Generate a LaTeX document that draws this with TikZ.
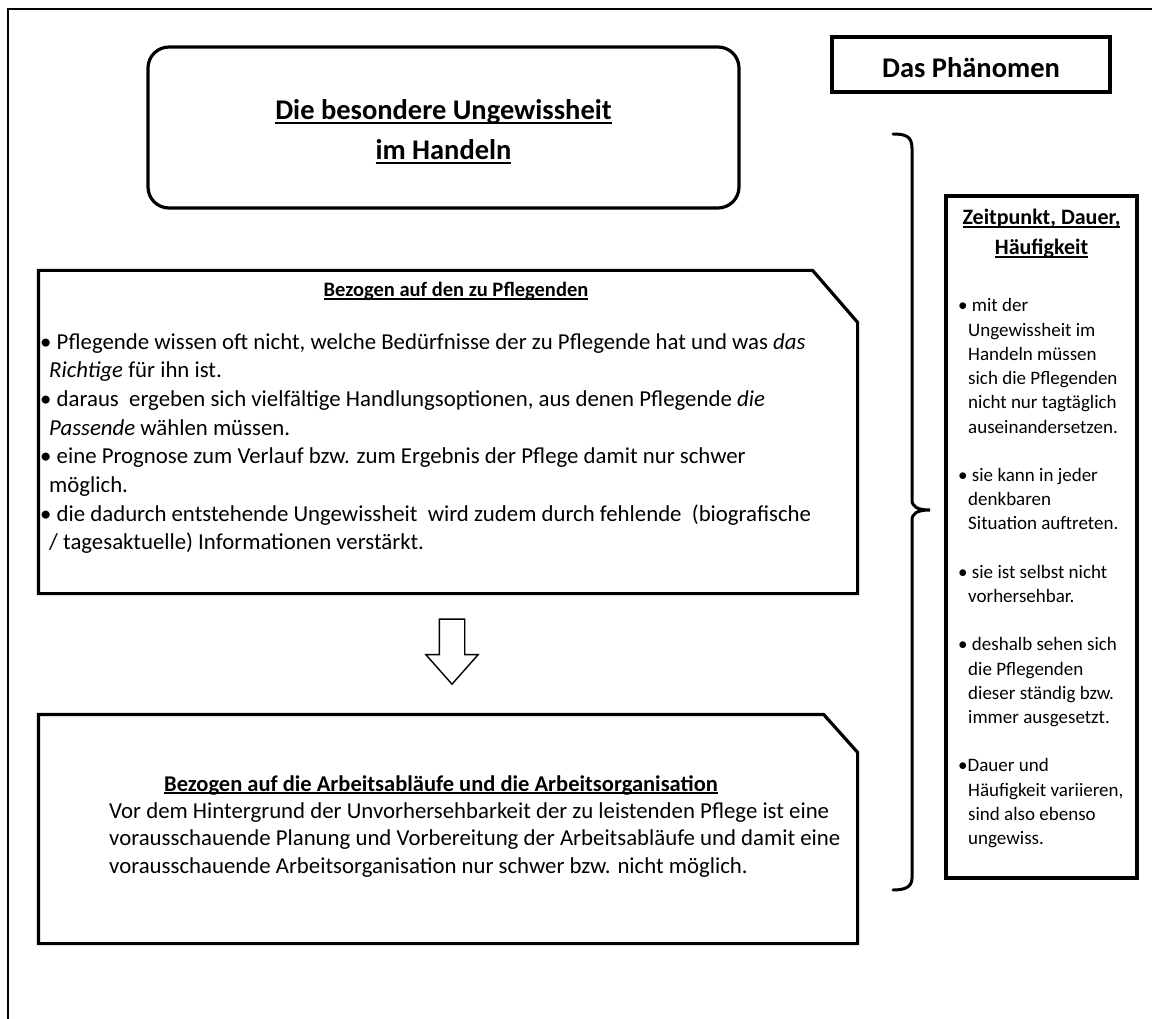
\documentclass[tikz,border=0pt]{standalone}
\usepackage{fontspec}
\setmainfont{Carlito}
\usetikzlibrary{shapes.arrows}

\newsavebox{\ulbox}
\newcommand{\ulin}[1]{\sbox{\ulbox}{#1}\rlap{\rule[-0.13em]{\wd\ulbox}{0.07em}}\usebox{\ulbox}}

\begin{document}
\begin{tikzpicture}[
    x=1pt, y=-1pt,
    frame/.style={line width=2.4pt},
    boxline/.style={draw=black, line width=3.2pt, line join=miter},
    titlebox/.style={
        rectangle, rounded corners=21pt,
        draw=black, line width=3.2pt,
        minimum width=591pt, minimum height=161pt
    },
    plainbox/.style={
        rectangle, draw=black, line width=3.2pt, inner sep=0pt
    },
    downarrow/.style={
        single arrow, draw=black, line width=1.4pt, rotate=-90,
        minimum height=65pt, inner xsep=0pt, inner ysep=12pt,
        single arrow head extend=13.5pt, single arrow tip angle=83
    },
    bracket/.style={line width=3pt, line cap=round},
    titletext/.style={anchor=base, inner sep=0pt, font=\fontsize{28.5}{34}\selectfont\bfseries},
    headone/.style={anchor=base, inner sep=0pt, font=\fontsize{20.5}{24}\selectfont\bfseries},
    heading/.style={anchor=base, inner sep=0pt, font=\fontsize{22.5}{26}\selectfont\bfseries},
    body/.style={anchor=base west, inner sep=0pt, font=\fontsize{22.8}{27}\selectfont},
    ztext/.style={anchor=base west, inner sep=0pt, font=\fontsize{19}{23}\selectfont},
]
\useasboundingbox (0,0) rectangle (1152,1019);

% Rahmen
\draw[frame] (8,1019) -- (8,9) -- (1152,9);

% Titel
\node[titlebox] (title) at (443.5,127.5) {};
\node[titletext] (title1) at (443.5,120) {\ulin{Die besondere Ungewissheit}};
\node[titletext] (title2) at (443.5,160) {\ulin{im Handeln}};

% Das Phaenomen
\node[plainbox, minimum width=278pt, minimum height=55pt] (phen) at (971,64.5) {};
\node[titletext] (phentxt) at (971,78) {Das Phänomen};

% Kasten: bezogen auf den zu Pflegenden
\node[plainbox, draw=none, minimum width=816pt, minimum height=320pt] (pfl) at (448,432) {};
\draw[boxline] (pfl.north west) -- ([xshift=-45pt]pfl.north east)
    -- ([yshift=-52pt]pfl.north east) -- (pfl.south east) -- (pfl.south west) -- cycle;
\node[headone] (pflhead) at (456,297) {\ulin{Bezogen auf den zu Pflegenden}};
\node[body] (pfl1) at (40,349)
    {• Pflegende wissen oft nicht, welche Bedürfnisse der zu Pflegende hat und was \textit{das}};
\node[body] (pfl2) at (49,377.7) {\textit{Richtige} für ihn ist.};
\node[body] (pfl3) at (40,406.4)
    {• daraus\ \ ergeben sich vielfältige Handlungsoptionen, aus denen Pflegende \textit{die}};
\node[body] (pfl4) at (49,435.1) {\textit{Passende} wählen müssen.};
\node[body] (pfl5) at (40,463.8)
    {• eine Prognose zum Verlauf bzw. zum Ergebnis der Pflege damit nur schwer};
\node[body] (pfl6) at (49,492.5) {möglich.};
\node[body] (pfl7) at (40,521.2)
    {• die dadurch entstehende Ungewissheit\ \ wird zudem durch fehlende\ \ (biografische};
\node[body] (pfl8) at (49,549.9) {/ tagesaktuelle) Informationen verstärkt.};

% Blockpfeil
\node[downarrow] (arr) at (452,644.5) {};

% Kasten: Arbeitsablaeufe und Arbeitsorganisation
\node[plainbox, draw=none, minimum width=816pt, minimum height=226pt] (arb) at (448,829) {};
\draw[boxline] (arb.north west) -- ([xshift=-34pt]arb.north east)
    -- ([yshift=-38pt]arb.north east) -- (arb.south east) -- (arb.south west) -- cycle;
\node[heading] (arbhead) at (441,791)
    {\ulin{Bezogen auf die Arbeitsabläufe und die Arbeitsorganisation}};
\node[body] (arb1) at (109,818)
    {Vor dem Hintergrund der Unvorhersehbarkeit der zu leistenden Pflege ist eine};
\node[body] (arb2) at (109,845.5)
    {vorausschauende Planung und Vorbereitung der Arbeitsabläufe und damit eine};
\node[body] (arb3) at (109,873)
    {vorausschauende Arbeitsorganisation nur schwer bzw. nicht möglich.};

% geschweifte Klammer
\draw[bracket] (893,134) .. controls (905,134) and (912,136) .. (912,148)
    -- (912,500) .. controls (912,507) and (918,510) .. (930,510)
    .. controls (918,510) and (912,513) .. (912,520)
    -- (912,878) .. controls (912,887) and (905,890) .. (893,890);

% Kasten rechts: Zeitpunkt, Dauer, Haeufigkeit
\node[plainbox, minimum width=191pt, minimum height=682pt] (zeit) at (1041.5,537) {};
\node[heading, font=\fontsize{22}{26}\selectfont\bfseries] (zeith1) at (1041.5,225) {\ulin{Zeitpunkt, Dauer,}};
\node[heading, font=\fontsize{22}{26}\selectfont\bfseries] (zeith2) at (1041.5,255) {\ulin{Häufigkeit}};
\foreach \k/\x/\t in {
    0/958/{• mit der}, 1/968/{Ungewissheit im}, 2/968/{Handeln müssen},
    3/968/{sich die Pflegenden}, 4/968/{nicht nur tagtäglich}, 5/968/{auseinandersetzen.},
    7/958/{• sie kann in jeder}, 8/968/{denkbaren}, 9/968/{Situation auftreten.},
    11/958/{• sie ist selbst nicht}, 12/968/{vorhersehbar.},
    14/958/{• deshalb sehen sich}, 15/968/{die Pflegenden},
    16/968/{dieser ständig bzw.}, 17/968/{immer ausgesetzt.},
    19/958/{•Dauer und}, 20/968/{Häufigkeit variieren,},
    21/968/{sind also ebenso}, 22/968/{ungewiss.}}
    \node[ztext] (z\k) at (\x,{312+24.2*\k}) {\t};

\end{tikzpicture}
\end{document}
